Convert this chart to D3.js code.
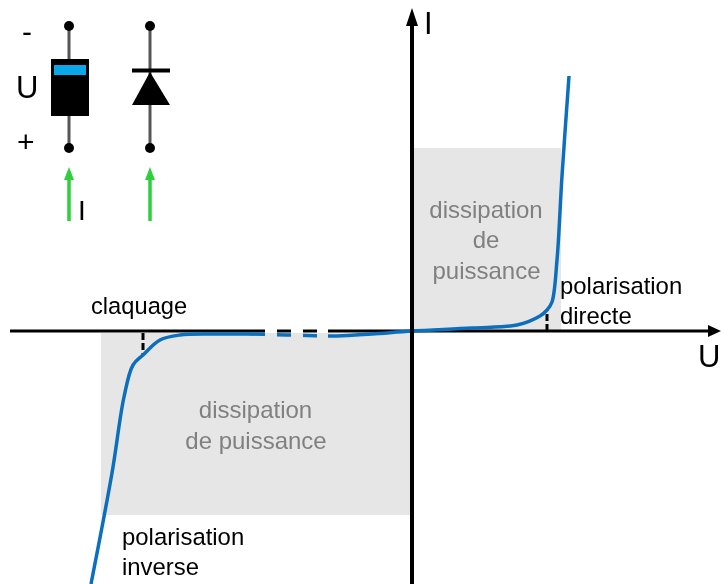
<!DOCTYPE html>
<html>
<head>
<meta charset="utf-8">
<script src="https://cdn.jsdelivr.net/npm/d3@7"></script>
<style>
  html, body { margin: 0; padding: 0; background: #fff; }
  text { font-family: "Liberation Sans", Arial, sans-serif; }
  svg { filter: blur(0.4px); }
</style>
</head>
<body>
<div id="chart"></div>
<script>
// curve values (1 unit = 100 px)
const curveU = [-3.21, -3.0, -2.88, -2.79, -2.69, -2.52, -2.32, -1.99, -1.65, -1.2, -0.75, -0.4, 0, 0.6, 1.05, 1.28, 1.35, 1.40, 1.45, 1.50, 1.57]
const curveI = [-2.53, -1.42, -0.66, -0.34, -0.24, -0.09, -0.04, -0.03, -0.03, -0.04, -0.05, -0.03, 0, 0.03, 0.06, 0.15, 0.21, 0.29, 0.71, 1.55, 2.55]

// broken part of the U axis: stretches that stay visible
const keptFrom = [-4.12, -1.35, -1.09, -0.84]
const keptTo = [-1.47, -1.21, -0.95, 3.09]

// grey areas
const areaU = [[-3.11, 0], [0, 1.49]]
const areaI = [[-1.84, -0.02], [0, 1.83]]

// knee markers
const kneeU = [-2.69, 1.35]
const kneeI = [[-0.02, -0.24], [0, 0.21]]

const svgWidth = 721
const svgHeight = 584
const blue = '#0b6fbe'
const green = '#2bd03a'

const x = d3.scaleLinear().domain([-4.12, 3.09]).range([0, svgWidth])
const y = d3.scaleLinear().domain([-2.53, 3.31]).range([svgHeight, 0])

const svg = d3.select('#chart').append('svg')
  .attr('width', svgWidth)
  .attr('height', svgHeight)
  .style('display', 'block')

const defs = svg.append('defs')

defs.append('clipPath').attr('id', 'broken')
  .selectAll('rect')
  .data(keptFrom)
  .join('rect')
  .attr('x', d => x(d))
  .attr('y', 0)
  .attr('width', (d, i) => x(keptTo[i]) - x(d))
  .attr('height', svgHeight)

// grey areas
svg.selectAll('rect.area')
  .data(areaU)
  .join('rect')
  .attr('class', 'area')
  .attr('x', d => x(d[0]))
  .attr('width', d => x(d[1]) - x(d[0]))
  .attr('y', (d, i) => y(areaI[i][1]))
  .attr('height', (d, i) => y(areaI[i][0]) - y(areaI[i][1]))
  .attr('fill', '#e6e6e6')

// knee markers
svg.selectAll('line.knee')
  .data(kneeU)
  .join('line')
  .attr('class', 'knee')
  .attr('x1', d => x(d))
  .attr('x2', d => x(d))
  .attr('y1', (d, i) => y(kneeI[i][0]))
  .attr('y2', (d, i) => y(kneeI[i][1]))
  .attr('stroke', '#000')
  .attr('stroke-width', 3)
  .attr('stroke-dasharray', '7 3')

const broken = svg.append('g').attr('clip-path', 'url(#broken)')

// U axis
broken.append('line')
  .attr('x1', 10)
  .attr('x2', 712)
  .attr('y1', y(0))
  .attr('y2', y(0))
  .attr('stroke', '#000')
  .attr('stroke-width', 3)

// I axis
svg.append('line')
  .attr('x1', x(0))
  .attr('x2', x(0))
  .attr('y1', svgHeight)
  .attr('y2', 22)
  .attr('stroke', '#000')
  .attr('stroke-width', 4)

svg.append('path')
  .attr('d', `M708,${y(0) - 6}L721,${y(0)}L708,${y(0) + 6}Z`)
  .attr('fill', '#000')

svg.append('path')
  .attr('d', `M${x(0)},8L${x(0) + 6},26L${x(0) - 6},26Z`)
  .attr('fill', '#000')

// the curve
const line = d3.line()
  .x(d => x(d))
  .y((d, i) => y(curveI[i]))
  .curve(d3.curveCatmullRom.alpha(0.5))

broken.append('path')
  .attr('d', line(curveU))
  .attr('fill', 'none')
  .attr('stroke', blue)
  .attr('stroke-width', 3.5)

// labels
function label(txt, px, py, size, color) {
  svg.append('text')
    .attr('x', px)
    .attr('y', py)
    .attr('font-size', size)
    .attr('fill', color || '#000')
    .text(txt)
}

function grey(txt, px, py) {
  svg.append('text')
    .attr('x', px)
    .attr('y', py)
    .attr('text-anchor', 'middle')
    .attr('font-size', 24)
    .attr('fill', '#808080')
    .text(txt)
}

label('claquage', 91, 314, 23.7)
label('polarisation', 560, 294, 23.9)
label('directe', 560, 324, 23.9)
label('polarisation', 122, 545, 23.9)
label('inverse', 122, 575, 23.9)
label('I', 424, 34, 31)
label('U', 698, 367, 31)

grey('dissipation', 486, 218)
grey('de', 486, 248)
grey('puissance', 486.5, 279)
grey('dissipation', 255.5, 418)
grey('de puissance', 256, 449)

// component symbols
label('-', 22, 42, 30)
label('U', 16, 98, 31)
label('+', 17, 152, 30)
label('I', 78, 220, 28)

const symbols = svg.append('g')

;[69, 150].forEach(cx => {
  symbols.append('line')
    .attr('x1', cx).attr('x2', cx)
    .attr('y1', 26).attr('y2', 148)
    .attr('stroke', '#555')
    .attr('stroke-width', 3)
  symbols.selectAll(null)
    .data([26, 148])
    .join('circle')
    .attr('cx', cx)
    .attr('cy', d => d)
    .attr('r', 5)
    .attr('fill', '#000')
  symbols.append('line')
    .attr('x1', cx).attr('x2', cx)
    .attr('y1', 221).attr('y2', 178)
    .attr('stroke', green)
    .attr('stroke-width', 3.5)
  symbols.append('path')
    .attr('d', `M${cx},167L${cx + 5},180L${cx - 5},180Z`)
    .attr('fill', green)
})

// packaged diode
symbols.append('rect')
  .attr('x', 51).attr('y', 59)
  .attr('width', 38).attr('height', 57)
  .attr('fill', '#000')
symbols.append('rect')
  .attr('x', 54).attr('y', 65)
  .attr('width', 32).attr('height', 10)
  .attr('fill', '#0aa8ea')

// schematic diode
symbols.append('line')
  .attr('x1', 132).attr('x2', 170)
  .attr('y1', 70.5).attr('y2', 70.5)
  .attr('stroke', '#000')
  .attr('stroke-width', 4)
symbols.append('path')
  .attr('d', 'M150,72L170,105L132,105Z')
  .attr('fill', '#000')
</script>
</body>
</html>
